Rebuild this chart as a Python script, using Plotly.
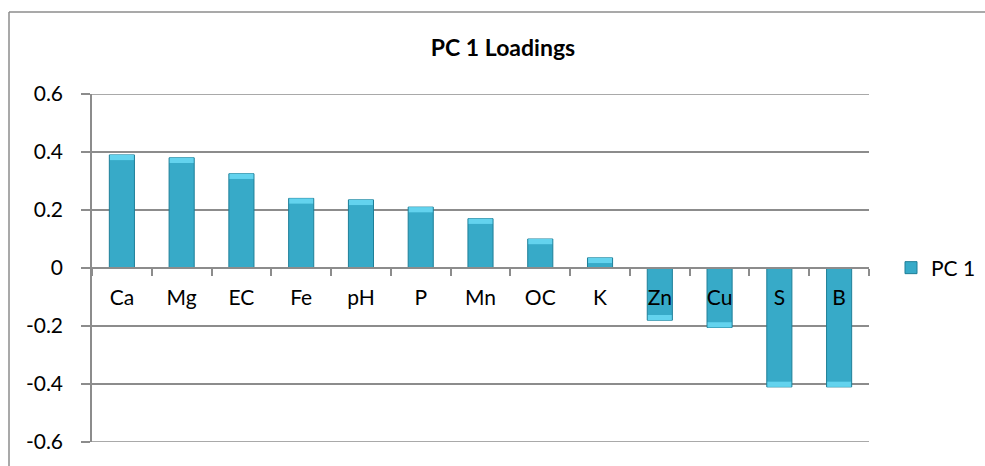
import plotly.graph_objects as go

categories = ["Ca", "Mg", "EC", "Fe", "pH", "P", "Mn", "OC", "K", "Zn", "Cu", "S", "B"]
pc1_values = [0.39, 0.38, 0.325, 0.24, 0.235, 0.21, 0.17, 0.10, 0.035, -0.18, -0.205, -0.41, -0.41]
y_ticks = [-0.6, -0.4, -0.2, 0, 0.2, 0.4, 0.6]
y_tick_labels = ["-0.6", "-0.4", "-0.2", "0", "0.2", "0.4", "0.6"]

FONT = "Lato, 'Open Sans', sans-serif"
GRAY = "#8c8c8c"

W, H = 985, 466
L, R, T, B = 92, 116, 94, 24
pw, ph = W - L - R, H - T - B

# highlight cap at the outer end of each bar (derived from the values)
cap = 0.018
cap_base = [v - cap if v >= 0 else v + cap for v in pc1_values]
cap_len = [cap if v >= 0 else -cap for v in pc1_values]

fig = go.Figure()
fig.add_trace(go.Bar(
    x=categories, y=pc1_values, name="PC 1", width=0.42,
    marker=dict(color="#37aac8", line=dict(color="#1f7f98", width=1)),
    showlegend=True,
))
fig.add_trace(go.Bar(
    x=categories, y=cap_len, base=cap_base, width=0.40, showlegend=False,
    hoverinfo="skip",
    marker=dict(color="#63d3ee", line=dict(width=0)),
))

fig.update_layout(
    width=W, height=H, barmode="overlay",
    margin=dict(l=L, r=R, t=T, b=B, autoexpand=False),
    paper_bgcolor="white", plot_bgcolor="white",
    font=dict(family=FONT, size=21, color="black"),
    title=dict(text="<b>PC 1 Loadings</b>", x=503 / W, xref="container",
               y=1 - 48 / H, yref="container", xanchor="center", yanchor="middle",
               font=dict(size=23, family=FONT)),
    showlegend=True,
    legend=dict(x=(891 - L) / pw, y=0.5, xanchor="left", yanchor="middle",
                font=dict(size=21), bgcolor="rgba(0,0,0,0)"),
    xaxis=dict(anchor="free", position=0.5, showline=True, linecolor=GRAY, linewidth=1.5,
               ticks="outside", tickson="boundaries", ticklen=7, tickcolor=GRAY, tickwidth=1.5,
               showgrid=False, ticklabelstandoff=11, range=[-0.5, 12.5]),
    yaxis=dict(range=[-0.6, 0.6], tickvals=y_ticks, ticktext=y_tick_labels,
               showline=True, linecolor=GRAY, linewidth=1.5,
               ticks="outside", ticklen=9, tickcolor=GRAY, tickwidth=1.5,
               showgrid=True, gridcolor=GRAY, gridwidth=1.5, zeroline=False,
               ticklabelstandoff=14),
)

# gridlines at the range ends (plotly omits gridlines on the plot edges)
for yv in (y_ticks[0], y_ticks[-1]):
    fig.add_shape(type="line", xref="paper", yref="y", x0=0, x1=1, y0=yv, y1=yv,
                  line=dict(color=GRAY, width=1.5), layer="below")

# outer chart border: only its left and top edges are inside the picture
bx0 = (9 - L) / pw
by1 = (H - B - 12) / ph
fig.add_shape(type="line", xref="paper", yref="paper", x0=bx0, x1=bx0,
              y0=-B / ph, y1=by1, line=dict(color=GRAY, width=1.5))
fig.add_shape(type="line", xref="paper", yref="paper", x0=bx0, x1=(W - L) / pw,
              y0=by1, y1=by1, line=dict(color=GRAY, width=1.5))

# remove the default page margin so the figure fills the window exactly
fig.write_html(
    "out.html",
    config={"displayModeBar": False},
    post_script="document.body.style.margin='0';"
                "document.documentElement.style.overflow='hidden';"
                "document.body.style.overflow='hidden';",
)
